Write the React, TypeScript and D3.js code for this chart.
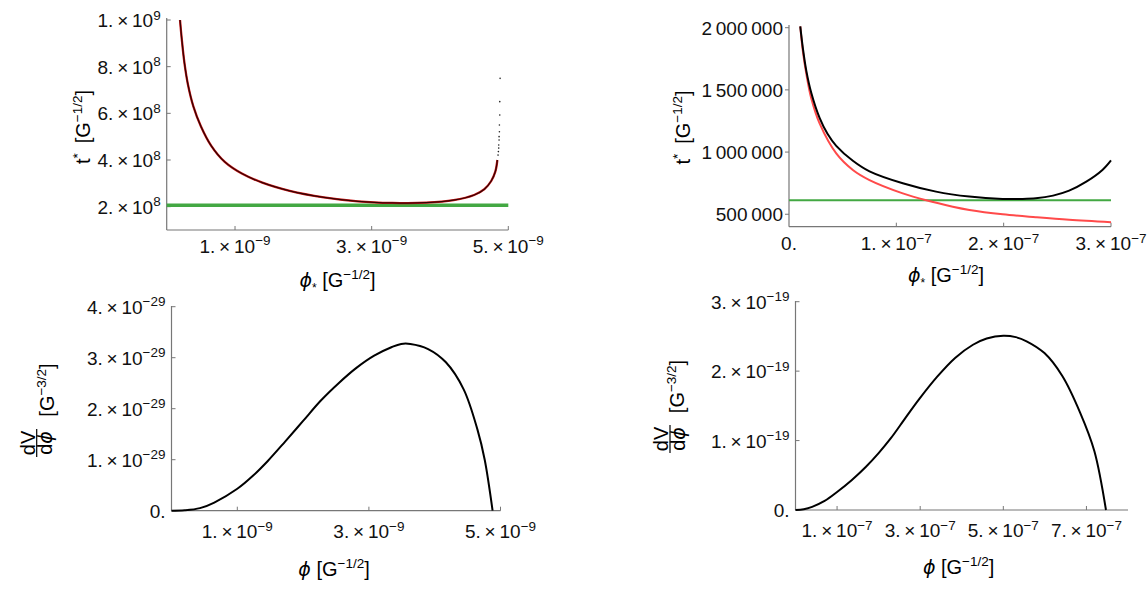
import React from "react";
import * as d3 from "d3";

const FONT = "'Liberation Sans', Arial, Helvetica, sans-serif";
const PHI_FONT = "'DejaVu Sans', sans-serif";

// top-left: t* vs phi*
const phiA = [1.95e-10, 2.2e-10, 2.6e-10, 3.1e-10, 3.9e-10, 5.0e-10, 6.5e-10, 8.5e-10, 1.1e-9, 1.4e-9, 1.8e-9, 2.3e-9, 2.8e-9, 3.3e-9, 3.8e-9, 4.2e-9, 4.5e-9, 4.65e-9, 4.75e-9, 4.81e-9, 4.84e-9];
const tA = [1.0e9, 9.2e8, 8.15e8, 7.25e8, 6.3e8, 5.45e8, 4.62e8, 3.92e8, 3.42e8, 3.03e8, 2.68e8, 2.4e8, 2.23e8, 2.16e8, 2.17e8, 2.28e8, 2.5e8, 2.75e8, 3.1e8, 3.5e8, 4.0e8];
const phiDotsA = [4.85e-9, 4.855e-9, 4.86e-9, 4.86e-9, 4.865e-9, 4.865e-9, 4.87e-9, 4.87e-9, 4.875e-9, 4.875e-9, 4.88e-9];
const tDotsA = [4.21e8, 4.36e8, 4.51e8, 4.64e8, 4.86e8, 5.0e8, 5.21e8, 5.5e8, 5.93e8, 6.5e8, 7.5e8];
const levelA = 2.06e8;

// top-right: t* vs phi*, two curves
const phiRedB = [1.05e-8, 1.3e-8, 1.61e-8, 2.08e-8, 2.85e-8, 4.4e-8, 5.95e-8, 7.5e-8, 1.06e-7, 1.278e-7, 1.526e-7, 1.681e-7, 1.991e-7, 2.3e-7, 2.61e-7, 3.0e-7];
const tRedB = [2.01e6, 1.805e6, 1.631e6, 1.43e6, 1.23e6, 9.89e5, 8.56e5, 7.75e5, 6.68e5, 6.12e5, 5.61e5, 5.35e5, 5.0e5, 4.76e5, 4.55e5, 4.36e5];
const phiBlackB = [1.05e-8, 1.3e-8, 1.61e-8, 2.08e-8, 2.85e-8, 3.6e-8, 4.4e-8, 5.95e-8, 7.5e-8, 1.06e-7, 1.37e-7, 1.68e-7, 1.99e-7, 2.15e-7, 2.3e-7, 2.46e-7, 2.61e-7, 2.77e-7, 2.92e-7, 3.0e-7];
const tBlackB = [2.01e6, 1.83e6, 1.655e6, 1.475e6, 1.275e6, 1.145e6, 1.05e6, 9.3e5, 8.45e5, 7.49e5, 6.82e5, 6.42e5, 6.23e5, 6.23e5, 6.28e5, 6.5e5, 6.9e5, 7.62e5, 8.56e5, 9.33e5];
const levelB = 6.12e5;

// bottom-left: dV/dphi
const phiC = [0, 2.0e-10, 4.33e-10, 6.5e-10, 1.0e-9, 1.25e-9, 1.46e-9, 1.73e-9, 2.0e-9, 2.27e-9, 2.54e-9, 2.81e-9, 3.08e-9, 3.35e-9, 3.49e-9, 3.63e-9, 3.9e-9, 4.17e-9, 4.44e-9, 4.65e-9, 4.76e-9, 4.88e-9];
const dvC = [0, 0.008e-29, 0.05e-29, 0.16e-29, 0.43e-29, 0.7e-29, 0.97e-29, 1.36e-29, 1.76e-29, 2.16e-29, 2.5e-29, 2.8e-29, 3.04e-29, 3.21e-29, 3.27e-29, 3.27e-29, 3.17e-29, 2.91e-29, 2.38e-29, 1.59e-29, 1.0e-29, 0];

// bottom-right: dV/dphi
const phiD = [0, 0.2e-7, 0.4e-7, 0.7e-7, 1.0e-7, 1.35e-7, 1.69e-7, 2.0e-7, 2.29e-7, 2.65e-7, 2.98e-7, 3.41e-7, 3.84e-7, 4.27e-7, 4.6e-7, 5.0e-7, 5.3e-7, 5.56e-7, 5.99e-7, 6.42e-7, 6.85e-7, 7.19e-7, 7.47e-7];
const dvD = [0, 0.012e-19, 0.045e-19, 0.13e-19, 0.26e-19, 0.43e-19, 0.62e-19, 0.82e-19, 1.03e-19, 1.33e-19, 1.6e-19, 1.92e-19, 2.19e-19, 2.38e-19, 2.47e-19, 2.51e-19, 2.49e-19, 2.43e-19, 2.26e-19, 1.93e-19, 1.4e-19, 0.85e-19, 0];

const ticksA_x = [1e-9, 3e-9, 5e-9];
const ticksA_y = [2e8, 4e8, 6e8, 8e8, 1e9];
const ticksB_x = [0, 1e-7, 2e-7, 3e-7];
const ticksB_y = [5e5, 1e6, 1.5e6, 2e6];
const ticksC_x = [1e-9, 3e-9, 5e-9];
const ticksC_y = [0, 1e-29, 2e-29, 3e-29, 4e-29];
const ticksD_x = [1e-7, 3e-7, 5e-7, 7e-7];
const ticksD_y = [0, 1e-19, 2e-19, 3e-19];

const AXIS = "#777";
const GREEN = "#43a843";
const RED = "#ff4a4a";
const FS = 19;
const TS = 20;
const SUP = 13.5;

// Mathematica-style "2.×10^8"
function sci(v: number) {
  if (v === 0) return <tspan>0.</tspan>;
  const e = Math.floor(Math.log10(Math.abs(v)) + 1e-9);
  const m = Math.round(v / Math.pow(10, e));
  const es = e < 0 ? "\u2212" + -e : String(e);
  return (
    <>
      <tspan>{m + ".\u2009×\u200910"}</tspan>
      <tspan dy={-7.5} fontSize={SUP}>{es}</tspan>
    </>
  );
}

const grouped = (v: number) => d3.format(",")(v).replace(/,/g, "\u2009");

function Axes(props: {
  x: d3.ScaleLinear<number, number>;
  y: d3.ScaleLinear<number, number>;
  xTicks: number[];
  yTicks: number[];
  yFmt: (v: number) => React.ReactNode;
  xGap: number;
  yTop: number;
  yOut?: boolean;
}) {
  const { x, y, xTicks, yTicks, yFmt, xGap, yTop, yOut } = props;
  const x0 = x.range()[0];
  const x1 = x.range()[1];
  const y0 = y.range()[0];
  return (
    <g fontFamily={FONT} fontSize={FS} fill="#111">
      <line x1={x0} x2={x0} y1={y0} y2={yTop} stroke={AXIS} strokeWidth={1.2} />
      <line x1={x0} x2={x1} y1={y0} y2={y0} stroke={AXIS} strokeWidth={1.2} />
      {yTicks.map((t) => (
        <g key={"y" + t}>
          <line x1={x0} x2={yOut ? x0 - 4 : x0 + 4} y1={y(t)} y2={y(t)} stroke={AXIS} strokeWidth={1} />
          <text x={x0 - 6} y={y(t) + 7} textAnchor="end">{yFmt(t)}</text>
        </g>
      ))}
      {xTicks.map((t) => (
        <g key={"x" + t}>
          {t !== 0 && <line x1={x(t)} x2={x(t)} y1={y0} y2={y0 - 4} stroke={AXIS} strokeWidth={1} />}
          <text x={x(t)} y={y0 + xGap} textAnchor="middle">{sci(t)}</text>
        </g>
      ))}
    </g>
  );
}

function TStarLabel({ bx, cy }: { bx: number; cy: number }) {
  return (
    <text transform={`translate(${bx},${cy}) rotate(-90)`} textAnchor="middle" fontFamily={FONT} fontSize={TS}>
      t<tspan dy={-8} fontSize={SUP}>*</tspan>
      <tspan dy={8}>{"\u2002[G"}</tspan>
      <tspan dy={-8} fontSize={SUP}>−1/2</tspan>
      <tspan dy={8}>]</tspan>
    </text>
  );
}

function PhiLabel({ cx, by, star }: { cx: number; by: number; star: boolean }) {
  return (
    <text x={cx} y={by} textAnchor="middle" fontFamily={FONT} fontSize={TS}>
      <tspan fontStyle="italic" fontFamily={PHI_FONT} fontSize={19}>ϕ</tspan>
      {star && <tspan dy={5} fontSize={12}>*</tspan>}
      <tspan dy={star ? -5 : 0}>{" [G"}</tspan>
      <tspan dy={-8} fontSize={SUP}>−1/2</tspan>
      <tspan dy={8}>]</tspan>
    </text>
  );
}

function DvLabel({ bar, cy, bx, bcy }: { bar: number; cy: number; bx: number; bcy: number }) {
  return (
    <g fontFamily={FONT} fontSize={TS}>
      <g transform={`translate(${bar},${cy}) rotate(-90)`}>
        <text x={0} y={-1.7} textAnchor="middle">dV</text>
        <line x1={-14} x2={14} y1={0} y2={0} stroke="#000" strokeWidth={1.2} />
        <text x={0} y={15} textAnchor="middle">
          d<tspan fontStyle="italic" fontFamily={PHI_FONT} fontSize={19}>ϕ</tspan>
        </text>
      </g>
      <text transform={`translate(${bx},${bcy}) rotate(-90)`} textAnchor="middle">
        [G<tspan dy={-8} fontSize={SUP}>−3/2</tspan>
        <tspan dy={8}>]</tspan>
      </text>
    </g>
  );
}

function path(x: d3.ScaleLinear<number, number>, y: d3.ScaleLinear<number, number>, xs: number[], ys: number[]) {
  return d3
    .line<number>()
    .x((d) => x(d))
    .y((_, i) => y(ys[i]))
    .curve(d3.curveCatmullRom.alpha(0.5))(xs) as string;
}

export default function App() {
  const xA = d3.scaleLinear().domain([0, 5e-9]).range([166.7, 508.3]);
  const yA = d3.scaleLinear().domain([1e8, 1e9]).range([230, 20]);
  const xB = d3.scaleLinear().domain([0, 3e-7]).range([789, 1111]);
  const yB = d3.scaleLinear().domain([4e5, 2e6]).range([226.7, 27.7]);
  const xC = d3.scaleLinear().domain([0, 5e-9]).range([171.5, 500.5]);
  const yC = d3.scaleLinear().domain([0, 4e-29]).range([510.7, 306.7]);
  const xD = d3.scaleLinear().domain([0, 8e-7]).range([795.5, 1128]);
  const yD = d3.scaleLinear().domain([0, 3e-19]).range([510, 301.7]);

  return (
    <svg width={1148} height={590} style={{ position: "absolute", left: 0, top: 0, background: "#fff" }}>
      {/* top-left */}
      <Axes x={xA} y={yA} xTicks={ticksA_x} yTicks={ticksA_y} yFmt={sci} xGap={22.5} yTop={18} />
      <line x1={xA(0)} x2={xA(5e-9)} y1={yA(levelA)} y2={yA(levelA)} stroke={GREEN} strokeWidth={3.4} />
      <path d={path(xA, yA, phiA, tA)} fill="none" stroke="#d01818" strokeWidth={2.3} />
      <path d={path(xA, yA, phiA, tA)} fill="none" stroke="#220000" strokeWidth={1.3} strokeOpacity={0.9} />
      {phiDotsA.map((p, i) => (
        <circle key={i} cx={xA(p)} cy={yA(tDotsA[i])} r={0.8} fill="#222" />
      ))}
      <TStarLabel bx={89.5} cy={127} />
      <PhiLabel cx={337.5} by={286.5} star />

      {/* top-right */}
      <Axes x={xB} y={yB} xTicks={ticksB_x} yTicks={ticksB_y} yFmt={(v) => grouped(v)} xGap={23.3} yTop={25} yOut />
      <line x1={xB(0)} x2={xB(3e-7)} y1={yB(levelB)} y2={yB(levelB)} stroke={GREEN} strokeWidth={2} />
      <path d={path(xB, yB, phiRedB, tRedB)} fill="none" stroke={RED} strokeWidth={2} />
      <path d={path(xB, yB, phiBlackB, tBlackB)} fill="none" stroke="#000" strokeWidth={2} />
      <TStarLabel bx={690} cy={127.5} />
      <PhiLabel cx={946} by={282} star />

      {/* bottom-left */}
      <Axes x={xC} y={yC} xTicks={ticksC_x} yTicks={ticksC_y} yFmt={sci} xGap={27.5} yTop={306} />
      <path d={path(xC, yC, phiC, dvC)} fill="none" stroke="#000" strokeWidth={2} />
      <DvLabel bar={36.7} cy={443} bx={53.8} bcy={390} />
      <PhiLabel cx={334} by={576} star={false} />

      {/* bottom-right */}
      <Axes x={xD} y={yD} xTicks={ticksD_x} yTicks={ticksD_y} yFmt={sci} xGap={27} yTop={301} />
      <path d={path(xD, yD, phiD, dvD)} fill="none" stroke="#000" strokeWidth={2} />
      <DvLabel bar={670} cy={439} bx={683.8} bcy={386.5} />
      <PhiLabel cx={958.6} by={574} star={false} />
    </svg>
  );
}
